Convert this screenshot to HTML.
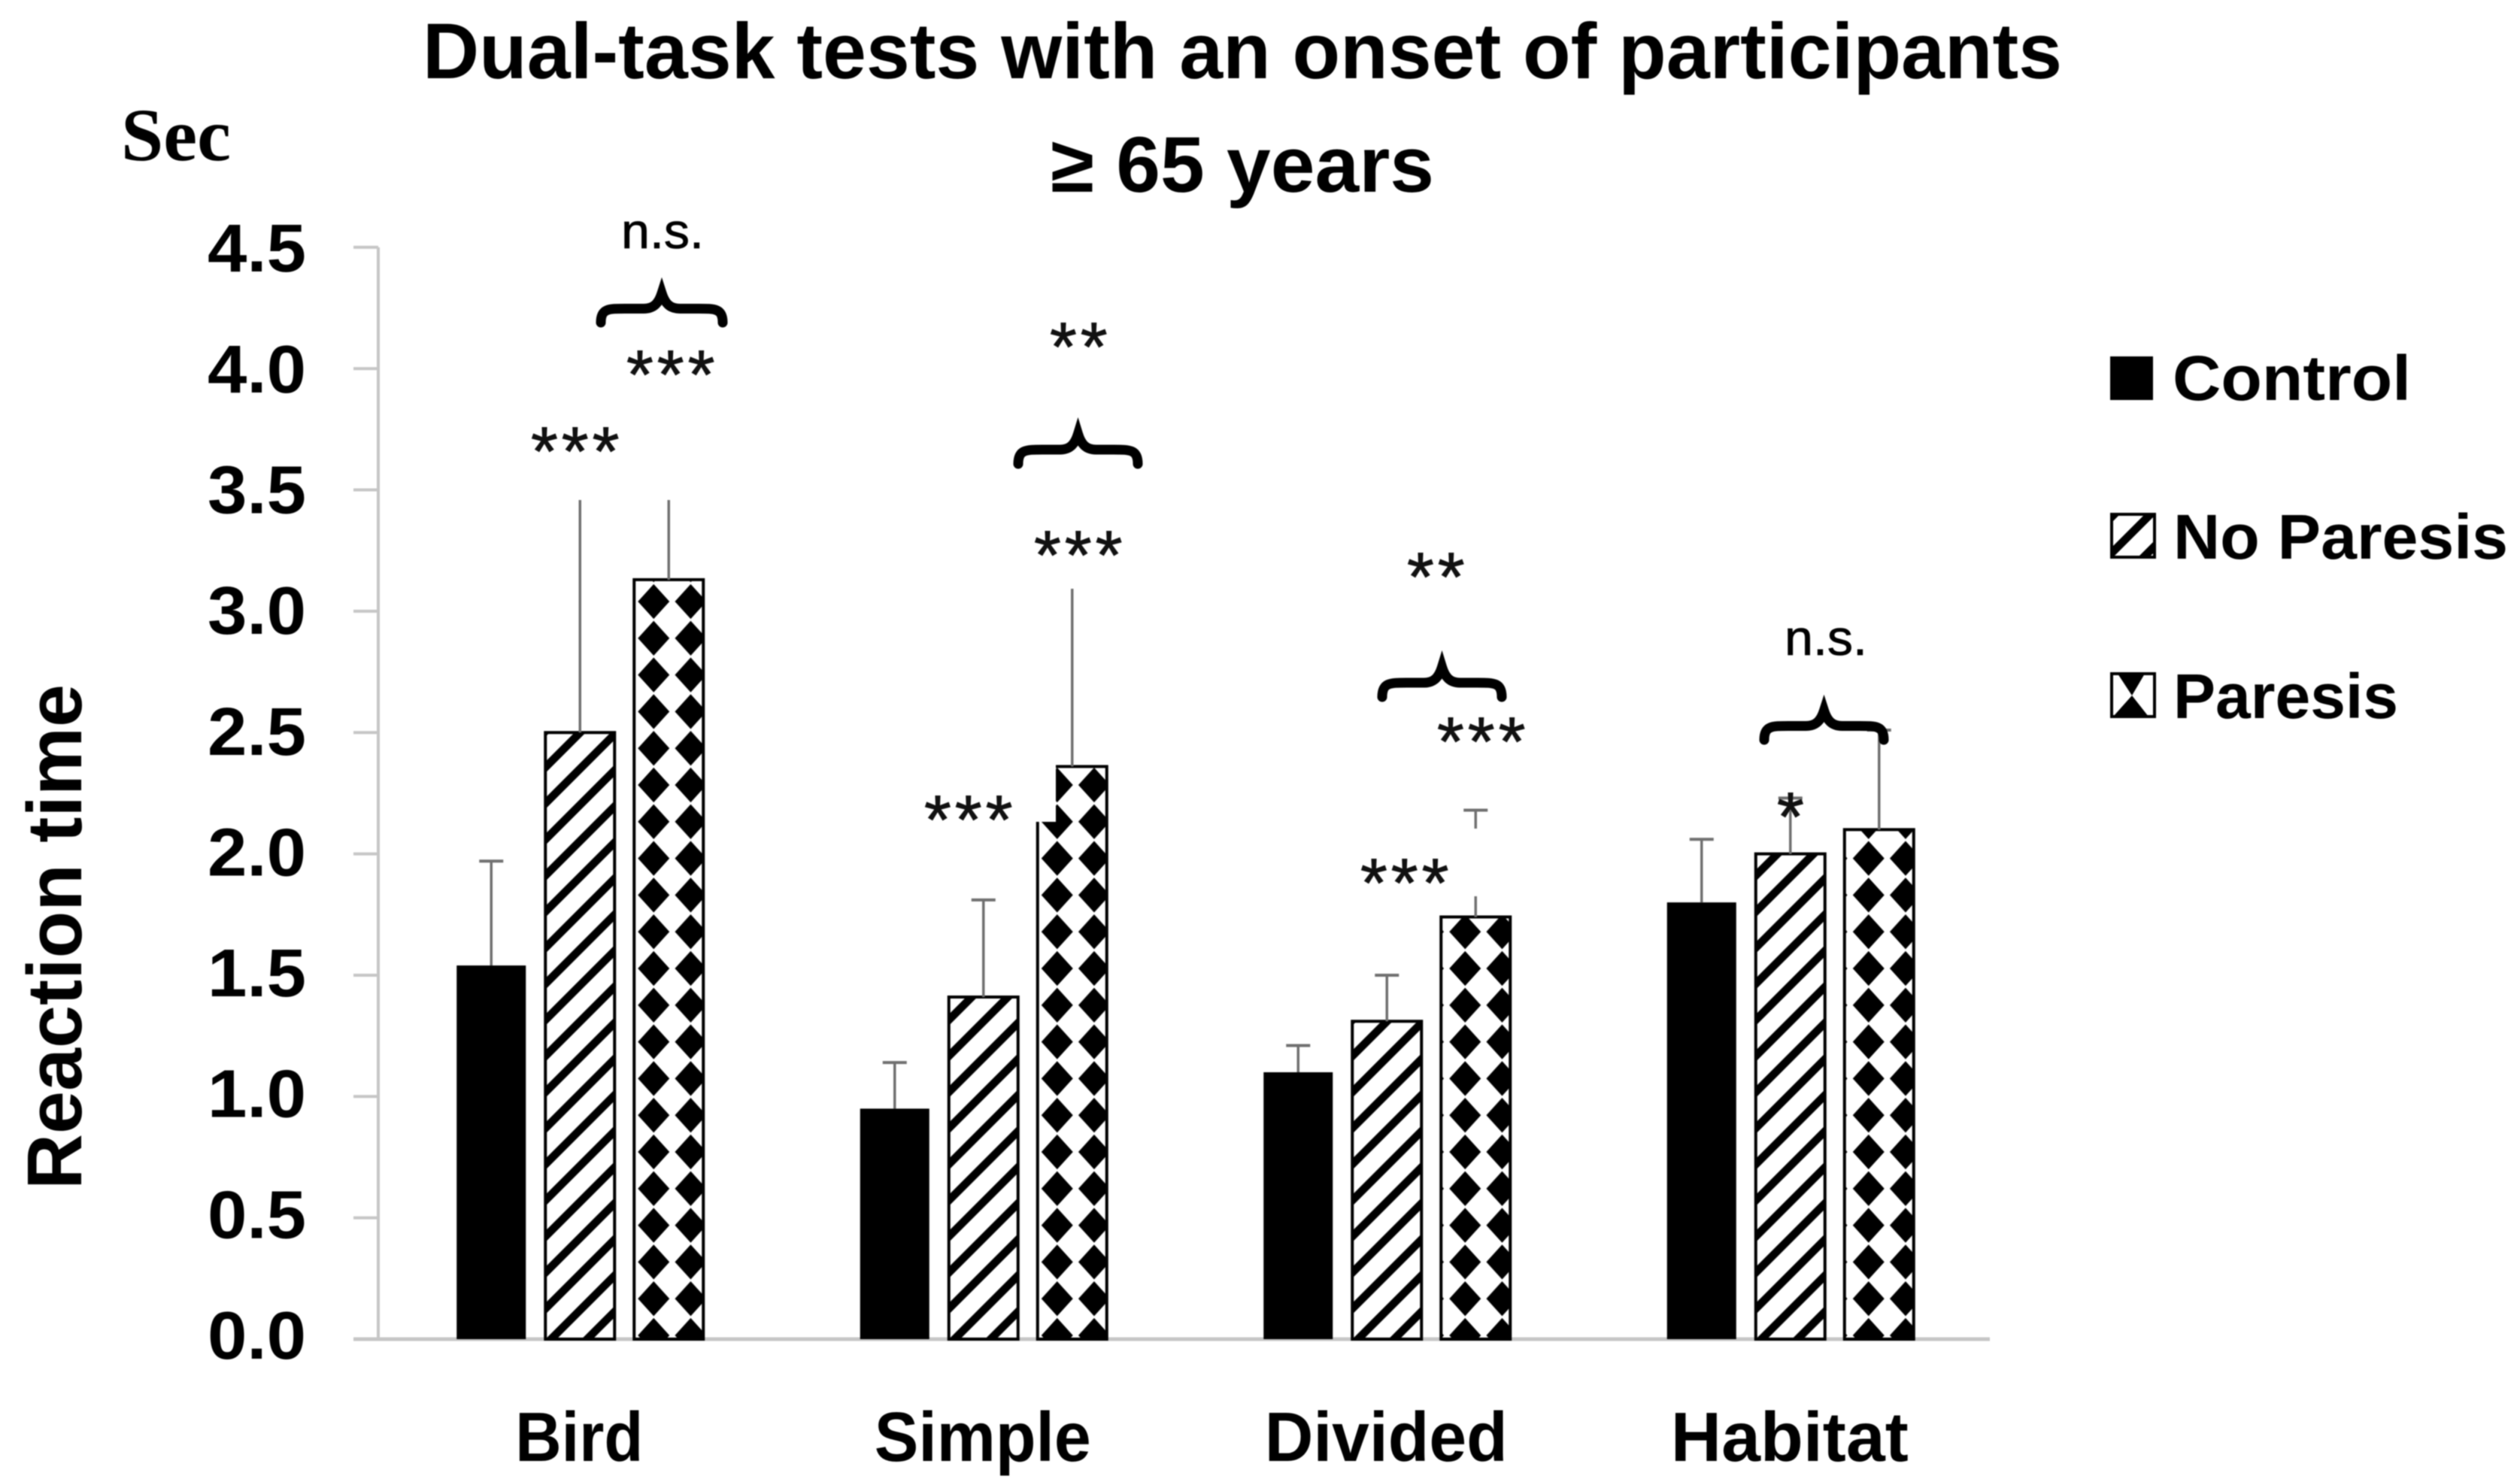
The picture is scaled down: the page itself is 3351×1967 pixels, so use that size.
<!DOCTYPE html>
<html lang="en">
<head>
<meta charset="utf-8">
<title>Dual-task tests with an onset of participants ≥ 65 years</title>
<style>
  html,body{margin:0;padding:0;background:#fff;}
  body{width:3351px;height:1967px;overflow:hidden;}
  svg{display:block;filter:blur(0.8px);}
  .b{font-family:"Liberation Sans",sans-serif;font-weight:700;fill:#000;}
  .r{font-family:"Liberation Sans",sans-serif;font-weight:400;fill:#000;stroke:#000;stroke-width:0.8px;}
  .a{font-family:"Liberation Sans",sans-serif;font-weight:400;fill:#111;stroke:#111;stroke-width:1px;font-size:92px;letter-spacing:5px;}
</style>
</head>
<body>
<svg id="chart" xmlns="http://www.w3.org/2000/svg" width="3351" height="1967" viewBox="0 0 3351 1967">
  <rect x="0" y="0" width="3351" height="1967" fill="#fff"/>
  <defs id="defs">
    <pattern id="legend-stripes" patternUnits="userSpaceOnUse" x="2806" y="682" width="48" height="48">
      <polygon points="0,48 15,48 63,0 48,0" fill="#000"/>
      <polygon points="-48,48 -33,48 15,0 0,0" fill="#000"/>
    </pattern>
  </defs>
  <g id="axes"></g>
  <g id="bars"></g>
  <g id="whiskers"></g>

  <g fill="#fff">
    <rect x="705" y="560" width="120" height="105"/>
    <rect x="835" y="460" width="115" height="205"/>
    <rect x="1375" y="700" width="120" height="83"/>
    <rect x="1225" y="1010" width="179" height="83"/>
    <rect x="1810" y="1102" width="165" height="90"/>
  </g>

  <text class="b" x="562" y="104" font-size="105" textLength="2180" lengthAdjust="spacingAndGlyphs">Dual-task tests with an onset of participants</text>
  <text class="b" x="1397" y="255" font-size="105" textLength="510" lengthAdjust="spacingAndGlyphs">≥ 65 years</text>
  <text x="161" y="213" font-family="'Liberation Serif',serif" font-weight="700" font-size="100" fill="#000" textLength="146" lengthAdjust="spacingAndGlyphs">Sec</text>
  <text class="b" transform="translate(108,1582) rotate(-90)" x="0" y="0" font-size="103" textLength="672" lengthAdjust="spacingAndGlyphs">Reaction time</text>

  <g>
    <text class="r" x="826" y="330" font-size="66" textLength="110" lengthAdjust="spacingAndGlyphs">n.s.</text>
    <text class="a" x="833" y="530">***</text>
    <text class="a" x="706" y="632">***</text>
    <text class="a" x="1396" y="493">**</text>
    <text class="a" x="1375" y="770">***</text>
    <text class="a" x="1229" y="1122">***</text>
    <text class="a" x="1871" y="799">**</text>
    <text class="a" x="1911" y="1018">***</text>
    <text class="a" x="1809" y="1206">***</text>
    <text class="r" x="2373" y="871" font-size="66" textLength="110" lengthAdjust="spacingAndGlyphs">n.s.</text>
    <text class="a" x="2363" y="1118">*</text>
  </g>
  <g id="braces"></g>

  <g>
    <g>
      <rect x="2806" y="474" width="57" height="58" fill="#000"/>
      <text class="b" x="2889" y="532" font-size="84" textLength="317" lengthAdjust="spacingAndGlyphs">Control</text>
    </g>
    <g>
      <rect x="2808" y="684" width="57" height="57" fill="url(#legend-stripes)" stroke="#000" stroke-width="4"/>
      <text class="b" x="2890" y="743" font-size="84" textLength="445" lengthAdjust="spacingAndGlyphs">No Paresis</text>
    </g>
    <g>
      <rect x="2808" y="896" width="57" height="57" fill="#fff" stroke="#000" stroke-width="4"/>
      <polygon points="2816,896 2852,896 2835,925" fill="#000"/>
      <polygon points="2835,925 2857,953 2810,953" fill="#000"/>
      <text class="b" x="2890" y="955" font-size="84" textLength="299" lengthAdjust="spacingAndGlyphs">Paresis</text>
    </g>
  </g>
</svg>

<script>
// Chart data
var categories = ["Bird", "Simple", "Divided", "Habitat"];
var seriesNames = ["control", "no-paresis", "paresis"];
var controlValues = [1.54, 0.95, 1.10, 1.80];
var noParesisValues = [2.50, 1.41, 1.31, 2.00];
var paresisValues = [3.13, 2.36, 1.74, 2.10];
var controlUpper = [1.97, 1.14, 1.21, 2.06];
var noParesisUpper = [3.52, 1.81, 1.50, 2.23];
var paresisUpper = [3.52, 3.15, 2.18, 2.51];
var yTicks = [0, 0.5, 1, 1.5, 2, 2.5, 3, 3.5, 4, 4.5];
var yTickLabels = ["0.0", "0.5", "1.0", "1.5", "2.0", "2.5", "3.0", "3.5", "4.0", "4.5"];
var xLabelWidths = [170, 288, 323, 316];

var svgNS = "http://www.w3.org/2000/svg";
var plotLeft = 503, plotRight = 2646, baseline = 1781, unitHeight = 322.7;
var band = 536.5, barWidth = 92, barStep = 118;

function yScale(v) { return baseline - v * unitHeight; }
function xBand(i) { return plotLeft + band * (i + 0.5); }
function xBar(i, s) { return xBand(i) + (s - 1) * barStep; }

function make(tag, attrs, parent) {
  var el = document.createElementNS(svgNS, tag);
  for (var k in attrs) { el.setAttribute(k, attrs[k]); }
  parent.appendChild(el);
  return el;
}

var axes = document.getElementById("axes");
var barsG = document.getElementById("bars");
var whiskersG = document.getElementById("whiskers");
var bracesG = document.getElementById("braces");
var defs = document.getElementById("defs");
var axisColor = "#c6c6c6";

// Y axis
var yLine = make("line", {x1: plotLeft, x2: plotLeft, y1: yScale(4.5), y2: baseline, stroke: axisColor, "stroke-width": 4}, axes);



yTicks.forEach(function (t, i) {
  var tick = make("line", {x1: 470, x2: plotLeft, y1: yScale(t), y2: yScale(t), stroke: axisColor, "stroke-width": 4}, axes);
  
  
  var lab = make("text", {"class": "b", x: 276, y: yScale(t) + 26 + t * 1.4, "font-size": 90, textLength: 131, lengthAdjust: "spacingAndGlyphs"}, axes);
  lab.textContent = yTickLabels[i];
  
  
});

// X axis
var xLine = make("line", {x1: 470, x2: plotRight, y1: baseline, y2: baseline, stroke: axisColor, "stroke-width": 5}, axes);



categories.forEach(function (c, i) {
  var lab = make("text", {"class": "b", x: xBand(i) - xLabelWidths[i] / 2 - 1, y: 1943, "font-size": 93, textLength: xLabelWidths[i], lengthAdjust: "spacingAndGlyphs"}, axes);
  lab.textContent = c;
  
  
});

// Bars and whiskers
var seriesValues = [controlValues, noParesisValues, paresisValues];
var seriesUpper = [controlUpper, noParesisUpper, paresisUpper];

function stripePattern(id, left) {
  var p = make("pattern", {id: id, patternUnits: "userSpaceOnUse", x: left, y: baseline - 48, width: 48, height: 48}, defs);
  make("polygon", {points: "0,48 15,48 63,0 48,0", fill: "#000"}, p);
  make("polygon", {points: "-48,48 -33,48 15,0 0,0", fill: "#000"}, p);
}
function diamondPattern(id, left, shift) {
  var w = 49.2, h = 48.8, hw = 21, hh = 23.2;
  var p = make("pattern", {id: id, patternUnits: "userSpaceOnUse", x: left + shift - w / 2, y: baseline - 5 - h / 2, width: w, height: h}, defs);
  make("polygon", {points: (w / 2) + "," + (h / 2 - hh) + " " + (w / 2 + hw) + "," + (h / 2) + " " + (w / 2) + "," + (h / 2 + hh) + " " + (w / 2 - hw) + "," + (h / 2), fill: "#000"}, p);
}

categories.forEach(function (c, i) {
  seriesValues.forEach(function (vals, s) {
    var cx = xBar(i, s);
    var left = cx - barWidth / 2;
    var top = yScale(vals[i]);
    var name = c.toLowerCase() + '-' + seriesNames[s];

    var upper = yScale(seriesUpper[s][i]);
    var stem = make("line", {x1: cx, x2: cx, y1: top, y2: upper, stroke: "#707070", "stroke-width": 3.5}, whiskersG);
    
    
    var cap = make("line", {x1: cx - 16, x2: cx + 16, y1: upper, y2: upper, stroke: "#707070", "stroke-width": 4}, whiskersG);
    
    

    var fill = "#000", stroke = "none", sw = 0;
    if (s === 1) {
      stripePattern("st-" + i, left);
      fill = "url(#st-" + i + ")"; stroke = "#000"; sw = 4;
    } else if (s === 2) {
      diamondPattern("di-" + i, left, i < 2 ? 26 : 32);
      fill = "url(#di-" + i + ")"; stroke = "#000"; sw = 4;
    }
    var bar = make("rect", {x: left, y: top, width: barWidth, height: baseline - top, fill: fill, stroke: stroke, "stroke-width": sw}, barsG);
    
    
  });
});

// Curly braces above bar groups
function brace(x1, x2, y1, y2) {
  var xc = (x1 + x2) / 2, ym = y1 + (y2 - y1) * 0.52;
  var d = "M" + (x1 + 6) + " " + (y2 - 5) +
    " C" + (x1 + 6) + " " + ym + " " + (x1 + 16) + " " + ym + " " + (x1 + 38) + " " + ym +
    " L" + (xc - 24) + " " + ym +
    " C" + (xc - 10) + " " + ym + " " + (xc - 4) + " " + (ym - 8) + " " + xc + " " + (y1 + 5) +
    " C" + (xc + 4) + " " + (ym - 8) + " " + (xc + 10) + " " + ym + " " + (xc + 24) + " " + ym +
    " L" + (x2 - 38) + " " + ym +
    " C" + (x2 - 16) + " " + ym + " " + (x2 - 6) + " " + ym + " " + (x2 - 6) + " " + (y2 - 5);
  return make("path", {d: d, fill: "none", stroke: "#000", "stroke-width": 13, "stroke-linecap": "round"}, bracesG);
}
var braceBird = brace(793, 967, 385, 434);


var braceSimple = brace(1348, 1519, 572, 622);


var braceDivided = brace(1832, 2003, 882, 932);


var braceHabitat = brace(2340, 2511, 940, 989);


</script>
</body>
</html>
